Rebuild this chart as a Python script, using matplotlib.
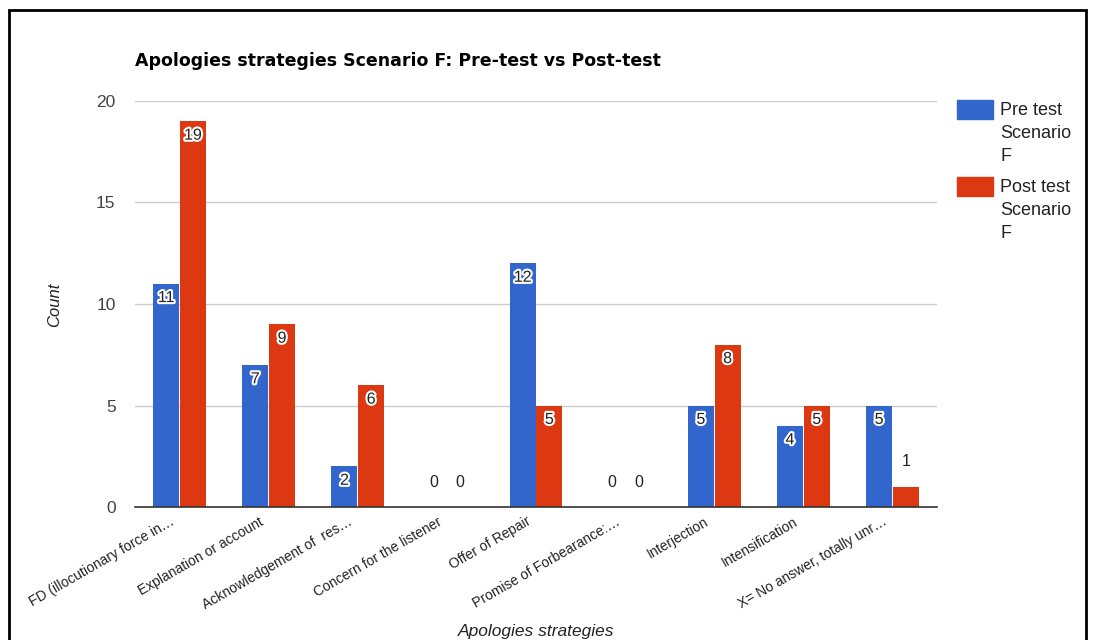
import matplotlib
matplotlib.use("Agg")
import matplotlib.pyplot as plt
import matplotlib.patheffects as pe
import matplotlib.transforms as mtransforms
from matplotlib.patches import Rectangle
import numpy as np

categories = [
    "FD (illocutionary force in…",
    "Explanation or account",
    "Acknowledgement of  res…",
    "Concern for the listener",
    "Offer of Repair",
    "Promise of Forbearance:…",
    "Interjection",
    "Intensification",
    "X= No answer, totally unr…",
]
pre_test = [11, 7, 2, 0, 12, 0, 5, 4, 5]
post_test = [19, 9, 6, 0, 5, 0, 8, 5, 1]
series_names = ["Pre test\nScenario\nF", "Post test\nScenario\nF"]
colors = ["#3366CC", "#DC3912"]

plt.rcParams["font.family"] = ["Liberation Sans", "DejaVu Sans"]

fig = plt.figure(figsize=(10.94, 6.4), dpi=100)
ax = fig.add_axes([0.1234, 0.2078, 0.7331, 0.6344])

x = np.arange(len(categories))
bw = 0.29
gap = 0.005
bars_pre = ax.bar(x - bw / 2 - gap, pre_test, bw, color=colors[0], label=series_names[0], zorder=3)
bars_post = ax.bar(x + bw / 2 + gap, post_test, bw, color=colors[1], label=series_names[1], zorder=3)

ax.set_xlim(-0.5, len(categories) - 0.5)
ax.set_ylim(0, 20)
ax.set_yticks([0, 5, 10, 15, 20])
ax.tick_params(axis="y", length=0, pad=14, labelsize=12.5, labelcolor="#444444")
ax.tick_params(axis="x", length=0, pad=4)
ax.grid(axis="y", color="#cccccc", linewidth=1, zorder=0)
for s in ["top", "right", "left"]:
    ax.spines[s].set_visible(False)
ax.spines["bottom"].set_color("#333333")
ax.spines["bottom"].set_linewidth(1.2)
ax.spines["bottom"].set_zorder(4)

ax.set_xticks(x)
ax.set_xticklabels(categories, rotation=30, ha="right", rotation_mode="anchor",
                   fontsize=10, color="#222222")
shift = mtransforms.ScaledTranslation(-10 / 100, -2 / 100, fig.dpi_scale_trans)
for lbl in ax.get_xticklabels():
    lbl.set_transform(lbl.get_transform() + shift)

halo = [pe.withStroke(linewidth=3, foreground="white")]
for bars, vals in ((bars_pre, pre_test), (bars_post, post_test)):
    for b, v in zip(bars, vals):
        cx = b.get_x() + b.get_width() / 2
        if v >= 2:
            ax.annotate(str(v), (cx, v), xytext=(0, -10), textcoords="offset points",
                        ha="center", va="center", fontsize=11.5, color="#222222",
                        path_effects=halo, zorder=5)
        else:
            ax.annotate(str(v), (cx, v), xytext=(0, 18), textcoords="offset points",
                        ha="center", va="center", fontsize=11.5, color="#222222", zorder=5)

fig.text(0.1234, 0.905, "Apologies strategies Scenario F: Pre-test vs Post-test",
         fontsize=12.5, fontweight="bold", color="#000000", ha="left", va="center",
         family=["DejaVu Sans"])
fig.text(0.05, 0.523, "Count", rotation=90, style="italic", fontsize=12,
         color="#222222", ha="center", va="center")
fig.text(0.49, 0.014, "Apologies strategies", style="italic", fontsize=12.5,
         color="#222222", ha="center", va="center")

# legend: colour swatches with wrapped labels
for i, (name, c) in enumerate(zip(series_names, colors)):
    y_top = 100 + i * 77
    fig.patches.append(Rectangle((957 / 1094, 1 - (y_top + 19) / 640), 36 / 1094, 19 / 640,
                                 transform=fig.transFigure, color=c))
    fig.text(1000 / 1094, 1 - (y_top + 2) / 640, name, fontsize=13, color="#222222",
             ha="left", va="top", linespacing=1.45)

# outer frame
fig.patches.append(Rectangle((9 / 1094, -0.05), 1077 / 1094, 1.05 - 10 / 640,
                             transform=fig.transFigure, fill=False,
                             edgecolor="black", linewidth=2))

fig.savefig("out.png", dpi=100)
